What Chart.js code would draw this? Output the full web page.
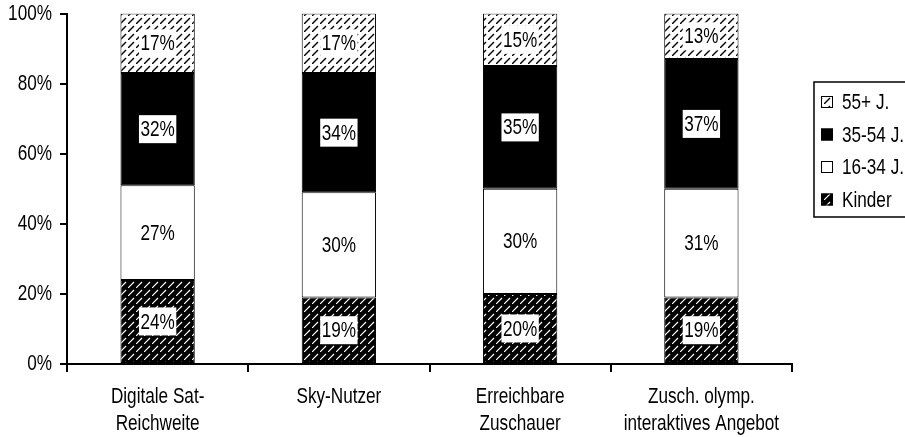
<!DOCTYPE html>
<html>
<head>
<meta charset="utf-8">
<script src="https://cdn.jsdelivr.net/npm/chart.js@4/dist/chart.umd.min.js"></script>
<style>
  html, body { margin: 0; padding: 0; background: #fff; }
  #wrap { width: 905px; height: 437px; position: relative; overflow: hidden; }
  canvas { display: block; }
</style>
</head>
<body>
<div id="wrap"><canvas id="chart" width="905" height="437"></canvas></div>
<script>
// Age structure of audiences, shares in percent (stacked to 100%)
const categories = [
  ["Digitale Sat-", "Reichweite"],
  ["Sky-Nutzer"],
  ["Erreichbare", "Zuschauer"],
  ["Zusch. olymp.", "interaktives Angebot"]
];
const seriesNames = ["Kinder", "16-34 J.", "35-54 J.", "55+ J."];
const kinder    = [24, 19, 20, 19];
const age16to34 = [27, 30, 30, 31];
const age35to54 = [32, 34, 35, 37];
const age55plus = [17, 17, 15, 13];
const yTickValues = [0, 20, 40, 60, 80, 100];

const FONT = "'Liberation Sans', Arial, sans-serif";
const FONT_SIZE = 22;
const CONDENSE = 0.78;   // narrow typeface look

const canvas = document.getElementById('chart');
const ctx2d = canvas.getContext('2d');

// Draw all text horizontally condensed around its anchor point
const baseFillText = ctx2d.fillText.bind(ctx2d);
ctx2d.fillText = function (text, x, y, maxWidth) {
  this.save();
  this.translate(x, y);
  this.scale(CONDENSE, 1);
  if (maxWidth !== undefined) baseFillText(text, 0, 0, maxWidth / CONDENSE);
  else baseFillText(text, 0, 0);
  this.restore();
};

// Diagonal dashed hatch tiles
function hatch(bg, fg, width) {
  const s = 8;
  const c = document.createElement('canvas');
  c.width = s; c.height = s;
  const g = c.getContext('2d');
  g.fillStyle = bg;
  g.fillRect(0, 0, s, s);
  g.strokeStyle = fg;
  g.lineWidth = width;
  g.lineCap = 'butt';
  g.beginPath();
  g.moveTo(0, s);
  g.lineTo(s - 2, 2);
  g.stroke();
  return ctx2d.createPattern(c, 'repeat');
}

const fills = [
  hatch('#000', '#fff', 1.2),   // Kinder
  '#ffffff',                    // 16-34 J.
  '#000000',                    // 35-54 J.
  hatch('#fff', '#000', 1.4)    // 55+ J.
];
const seriesData = [kinder, age16to34, age35to54, age55plus];

const datasets = seriesNames.map((name, i) => ({
  label: name,
  data: seriesData[i],
  backgroundColor: fills[i],
  borderColor: '#000',
  borderWidth: 1,
  borderSkipped: false,
  barPercentage: 0.41,
  categoryPercentage: 1.0
}));

// White boxes with the percentage in the middle of each segment
const valueBoxes = {
  id: 'valueBoxes',
  afterDatasetsDraw(chart) {
    const ctx = chart.ctx;
    ctx.save();
    ctx.font = FONT_SIZE + 'px ' + FONT;
    ctx.textAlign = 'center';
    ctx.textBaseline = 'middle';
    chart.data.datasets.forEach((ds, i) => {
      const meta = chart.getDatasetMeta(i);
      meta.data.forEach((bar, j) => {
        const p = bar.getProps(['x', 'y', 'base'], true);
        const cy = (p.y + p.base) / 2;
        const text = ds.data[j] + '%';
        const w = ctx.measureText(text).width * CONDENSE + 3;
        ctx.fillStyle = '#fff';
        ctx.fillRect(p.x - w / 2, cy - 14, w, 28);
        ctx.fillStyle = '#000';
        ctx.fillText(text, p.x, cy + 1);
      });
    });
    ctx.restore();
  }
};

// Framed legend on the right, top series first
const boxedLegend = {
  id: 'boxedLegend',
  afterDraw(chart) {
    const ctx = chart.ctx;
    const left = 814, top = 82, right = 906, bottom = 217;
    ctx.save();
    ctx.strokeStyle = '#000';
    ctx.lineWidth = 1.5;
    ctx.strokeRect(left, top, right - left, bottom - top);
    ctx.font = FONT_SIZE + 'px ' + FONT;
    ctx.textAlign = 'left';
    ctx.textBaseline = 'middle';
    const order = chart.data.datasets.map((d, i) => i).reverse();
    order.forEach((di, k) => {
      const ds = chart.data.datasets[di];
      const cy = 102 + k * 32.5;
      ctx.fillStyle = ds.backgroundColor;
      ctx.fillRect(821, cy - 6, 12, 12);
      ctx.strokeStyle = '#000';
      ctx.lineWidth = 1;
      ctx.strokeRect(821.5, cy - 5.5, 11, 11);
      ctx.fillStyle = '#000';
      ctx.fillText(ds.label, 842, cy + 1);
    });
    ctx.restore();
  }
};

new Chart(canvas, {
  type: 'bar',
  data: { labels: categories, datasets },
  options: {
    responsive: false,
    animation: false,
    devicePixelRatio: 1,
    layout: { padding: { top: 10, right: 113, left: 0, bottom: 0 } },
    plugins: {
      legend: { display: false },
      tooltip: { enabled: false }
    },
    font: { family: FONT, size: FONT_SIZE },
    scales: {
      x: {
        stacked: true,
        border: { color: '#000', width: 2 },
        grid: {
          offset: true,
          drawOnChartArea: false,
          color: '#000',
          lineWidth: 2,
          tickLength: 8
        },
        ticks: {
          color: '#000',
          padding: 11,
          maxRotation: 0,
          autoSkip: false,
          font: { family: FONT, size: FONT_SIZE, lineHeight: 1.24 }
        },
        afterFit(scale) { scale.height = 73; }
      },
      y: {
        stacked: true,
        min: 0,
        max: 100,
        border: { color: '#000', width: 2 },
        grid: {
          drawOnChartArea: false,
          color: '#000',
          lineWidth: 2,
          tickLength: 7
        },
        afterBuildTicks(scale) {
          scale.ticks = yTickValues.map(v => ({ value: v }));
        },
        ticks: {
          color: '#000',
          padding: 8,
          font: { family: FONT, size: FONT_SIZE, lineHeight: 0.5 },
          callback: v => v + '%'
        },
        afterFit(scale) { scale.width = 67; }
      }
    }
  },
  plugins: [valueBoxes, boxedLegend]
});
</script>
</body>
</html>
